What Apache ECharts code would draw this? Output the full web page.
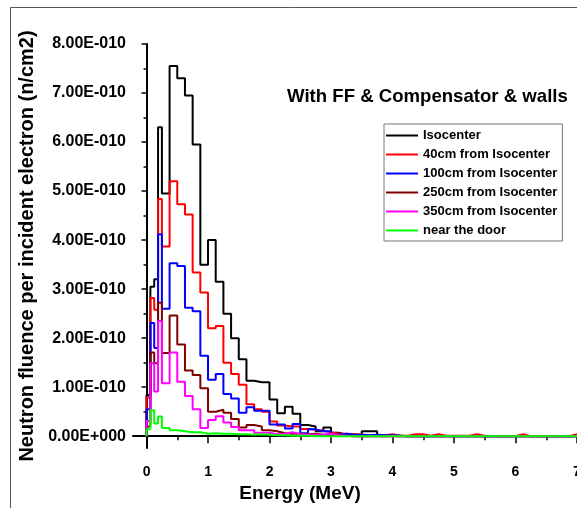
<!DOCTYPE html>
<html>
<head>
<meta charset="utf-8">
<script src="https://cdn.jsdelivr.net/npm/echarts@6/dist/echarts.min.js"></script>
<style>
    html, body { margin: 0; padding: 0; background: #fff; }
    #chart { width: 577px; height: 508px; }
</style>
</head>
<body>
<div id="chart"></div>
<script>
    // bin left edges (MeV), last bin ends at 7
    const energies = [
        0, 0.0625, 0.125, 0.1875, 0.25, 0.375, 0.5, 0.625, 0.75, 0.875,
        1.0, 1.125, 1.25, 1.375, 1.5, 1.625, 1.75, 1.875, 2.0, 2.125,
        2.25, 2.375, 2.5, 2.625, 2.75, 2.875, 3.0, 3.125, 3.25, 3.375,
        3.5, 3.625, 3.75, 3.875, 4.0, 4.125, 4.25, 4.375, 4.5, 4.625,
        4.75, 4.875, 5.0, 5.125, 5.25, 5.375, 5.5, 5.625, 5.75, 5.875,
        6.0, 6.125, 6.25, 6.375, 6.5, 6.625, 6.75, 6.875
    ];
    const lastEdge = 7;

    // fluence, in units of 1E-10 n/cm2 per incident electron
    const isocenter = [
        0.84, 3.05, 3.2, 6.3, 4.95, 7.55, 7.3, 6.95, 5.95, 3.5,
        4.0, 3.15, 2.5, 2.0, 1.57, 1.13, 1.1, 1.1, 0.75, 0.47,
        0.6, 0.46, 0.23, 0.2, 0.1, 0.18, 0.07, 0.03, 0.03, 0.03,
        0.1, 0.1, 0.02, 0.02, 0.01, 0, 0, 0, 0, 0,
        0, 0, 0, 0, 0, 0, 0, 0, 0, 0,
        0, 0, 0, 0, 0, 0, 0, 0
    ];
    const from40 = [
        0.79, 2.82, 2.58, 4.84, 3.87, 5.2, 4.73, 4.52, 3.34, 2.93,
        2.2, 2.25, 1.5, 1.27, 1.05, 0.65, 0.55, 0.5, 0.3, 0.22,
        0.2, 0.2, 0.15, 0.13, 0.11, 0.08, 0.05, 0.05, 0.04, 0.03,
        0.02, 0.02, 0.02, 0.04, 0.01, 0.01, 0.04, 0.04, 0.01, 0.04,
        0.01, 0.01, 0.01, 0.01, 0.04, 0.01, 0, 0, 0, 0,
        0.04, 0, 0, 0, 0, 0, 0, 0.04
    ];
    const from100 = [
        0.55, 2.31, 1.8, 4.12, 2.6, 3.53, 3.47, 2.62, 2.55, 1.64,
        1.15, 1.27, 0.86, 0.77, 0.48, 0.59, 0.52, 0.52, 0.24, 0.24,
        0.16, 0.25, 0.06, 0.14, 0.1, 0.1, 0.03, 0.05, 0.03, 0.03,
        0.02, 0.03, 0.02, 0.02, 0.01, 0, 0, 0, 0, 0,
        0, 0, 0, 0, 0, 0, 0, 0, 0, 0,
        0, 0, 0, 0, 0, 0, 0, 0
    ];
    const from250 = [
        0.2, 1.71, 1.49, 2.72, 1.7, 2.46, 1.87, 1.34, 1.25, 0.98,
        0.5, 0.54, 0.48, 0.35, 0.18, 0.23, 0.2, 0.12, 0.1, 0.06,
        0.05, 0.05, 0.04, 0.05, 0.03, 0.04, 0.02, 0.01, 0, 0,
        0, 0, 0, 0, 0, 0, 0, 0, 0, 0,
        0, 0, 0, 0, 0, 0, 0, 0, 0, 0,
        0, 0, 0, 0, 0, 0, 0, 0
    ];
    const from350 = [
        0.31, 1.49, 0.91, 2.35, 1.08, 1.71, 1.11, 0.82, 0.55, 0.17,
        0.33, 0.41, 0.28, 0.19, 0.12, 0.12, 0.07, 0.07, 0.04, 0.05,
        0.08, 0.04, 0.03, 0.03, 0.03, 0.05, 0.02, 0.01, 0, 0,
        0, 0, 0, 0, 0, 0, 0, 0, 0, 0,
        0, 0, 0, 0, 0, 0, 0, 0, 0, 0,
        0, 0, 0, 0, 0, 0, 0, 0
    ];
    const nearDoor = [
        0.14, 0.53, 0.26, 0.4, 0.17, 0.12, 0.1, 0.08, 0.08, 0.05,
        0.06, 0.05, 0.05, 0.04, 0.04, 0.03, 0.04, 0.03, 0.02, 0.02,
        0.01, 0.01, 0.01, 0, 0, 0, 0, 0, 0, 0,
        0, 0, 0, 0, 0, 0, 0, 0, 0, 0,
        0, 0, 0, 0, 0, 0, 0, 0, 0, 0,
        0, 0, 0, 0, 0, 0, 0, 0
    ];

    const seriesNames = ['Isocenter', '40cm from Isocenter', '100cm from Isocenter',
        '250cm from Isocenter', '350cm from Isocenter', 'near the door'];
    const seriesValues = [isocenter, from40, from100, from250, from350, nearDoor];
    const seriesColors = ['#000000', '#ff0000', '#0000ff', '#800000', '#ff00ff', '#00ff00'];

    const xMajorTicks = [0, 1, 2, 3, 4, 5, 6, 7];
    const xMinorTicks = [0.5, 1.5, 2.5, 3.5, 4.5, 5.5, 6.5];
    const yMajorTicks = [0, 1, 2, 3, 4, 5, 6, 7, 8];
    const yMinorTicks = [0.5, 1.5, 2.5, 3.5, 4.5, 5.5, 6.5, 7.5];

    const font = '"Liberation Sans", Arial, sans-serif';

    // histogram outline: start on the baseline, then one point per bin edge
    function stepData(values) {
        let pts = [[energies[0], 0]];
        values.forEach((v, i) => pts.push([energies[i], v]));
        pts.push([lastEdge, values[values.length - 1]]);
        return pts;
    }

    let myChart = echarts.init(document.getElementById('chart'), null, {renderer: 'canvas'});

    let option = {
        animation: false,
        backgroundColor: '#fff',
        title: {
            text: 'With FF & Compensator & walls',
            left: 287,
            top: 87,
            padding: 0,
            textStyle: {fontFamily: font, fontSize: 18.6, fontWeight: 'bold', color: '#000'}
        },
        legend: {
            orient: 'vertical',
            left: 384,
            top: 124,
            padding: [4, 5, 3, 2],
            itemWidth: 32,
            itemHeight: 14,
            itemGap: 4,
            icon: 'path://M0,0 L32,0 L32,2 L0,2 Z',
            borderColor: '#777',
            borderWidth: 1,
            data: seriesNames,
            textStyle: {fontFamily: font, fontSize: 13, fontWeight: 'bold', color: '#000', lineHeight: 15}
        },
        grid: {
            left: 133,
            right: 0,
            top: 44,
            bottom: 60,
            containLabel: false,
            outerBoundsMode: 'none'
        },
        graphic: [{
            type: 'rect',
            shape: {x: 10.5, y: 7.5, width: 640, height: 560},
            style: {fill: 'none', stroke: '#555', lineWidth: 1},
            silent: true
        }],
        xAxis: [
            {
                type: 'value',
                min: -0.22,
                max: 7,
                position: 'bottom',
                name: 'Energy (MeV)',
                nameLocation: 'middle',
                nameGap: 31,
                nameTextStyle: {
                    fontFamily: font, fontSize: 19, fontWeight: 'bold', color: '#000',
                    padding: [0, 110, 0, 0]
                },
                axisLine: {show: true, lineStyle: {color: '#000', width: 2}},
                axisTick: {show: true, customValues: xMajorTicks, length: 7, lineStyle: {color: '#000', width: 1.5}},
                axisLabel: {
                    show: true, customValues: xMajorTicks, margin: 17,
                    fontFamily: font, fontSize: 14, fontWeight: 'bold', color: '#000'
                },
                splitLine: {show: false}
            },
            {
                type: 'value',
                min: -0.22,
                max: 7,
                position: 'bottom',
                axisLine: {show: false},
                axisTick: {show: true, customValues: xMinorTicks, length: 4, lineStyle: {color: '#000', width: 1.5}},
                axisLabel: {show: false},
                splitLine: {show: false}
            }
        ],
        yAxis: [
            {
                type: 'value',
                min: -0.24,
                max: 8,
                position: 'left',
                name: 'Neutron fluence per incident electron (n/cm2)',
                nameLocation: 'middle',
                nameGap: 88,
                nameTextStyle: {fontFamily: font, fontSize: 20, fontWeight: 'bold', color: '#000'},
                axisLine: {show: true, lineStyle: {color: '#000', width: 2}},
                axisTick: {show: true, customValues: yMajorTicks, length: 5, lineStyle: {color: '#000', width: 1.5}},
                axisLabel: {
                    show: true, customValues: yMajorTicks, margin: 7,
                    fontFamily: font, fontSize: 16, fontWeight: 'bold', color: '#000',
                    formatter: v => v === 0 ? '0.00E+000' : v.toFixed(2) + 'E-010'
                },
                splitLine: {show: false}
            },
            {
                type: 'value',
                min: -0.24,
                max: 8,
                position: 'left',
                axisLine: {show: false},
                axisTick: {show: true, customValues: yMinorTicks, length: 3, lineStyle: {color: '#000', width: 1.5}},
                axisLabel: {show: false},
                splitLine: {show: false}
            }
        ],
        series: seriesNames.map((name, i) => ({
            name: name,
            type: 'line',
            step: 'end',
            symbol: 'none',
            xAxisIndex: 0,
            yAxisIndex: 0,
            color: seriesColors[i],
            lineStyle: {color: seriesColors[i], width: 2},
            data: stepData(seriesValues[i])
        }))
    };

    myChart.setOption(option);
</script>
</body>
</html>
